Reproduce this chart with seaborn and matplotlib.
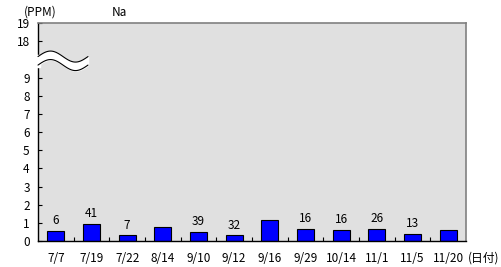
import numpy as np
import pandas as pd
import matplotlib
matplotlib.use("Agg")
import matplotlib.pyplot as plt
import seaborn as sns

dates = ["7/7", "7/19", "7/22", "8/14", "9/10", "9/12", "9/16", "9/29", "10/14", "11/1", "11/5", "11/20"]
na_ppm = [0.56, 0.94, 0.33, 0.78, 0.50, 0.33, 1.17, 0.67, 0.61, 0.67, 0.39, 0.61]
bar_labels = ["6", "41", "7", "", "39", "32", "", "16", "16", "26", "13", ""]
y_tick_values = [0, 1, 2, 3, 4, 5, 6, 7, 8, 9, 18, 19]

BREAK_LO, BREAK_HI, GAP = 9, 18, 2  # 9 -> 9, 18 -> 11


def ymap(v):
    v = np.asarray(v, dtype=float)
    return np.where(v <= BREAK_LO, v, v - (BREAK_HI - BREAK_LO) + GAP)


sns.set_theme(style="white")
plt.rcParams["font.family"] = ["Noto Sans CJK JP", "DejaVu Sans"]
plt.rcParams["text.color"] = "black"
plt.rcParams["xtick.color"] = "black"
plt.rcParams["ytick.color"] = "black"

FS = 8.5

fig = plt.figure(figsize=(5.01, 2.67), dpi=100)
ax = fig.add_axes([38 / 501, 26 / 267, 428 / 501, 218 / 267])
ax.set_facecolor("#e0e0e0")

df = pd.DataFrame({"date": dates, "value": ymap(na_ppm)})
sns.barplot(data=df, x="date", y="value", color="#0000ff", saturation=1,
            edgecolor="black", linewidth=0.8, width=0.48, ax=ax)

for i, (v, lab) in enumerate(zip(na_ppm, bar_labels)):
    if lab:
        ax.annotate(lab, (i, float(ymap(v))), xytext=(0, 2.5), textcoords="offset points",
                    ha="center", va="bottom", fontsize=FS)

ax.set_xlim(-0.5, len(dates) - 0.5)
ax.set_ylim(0, float(ymap(19)))
ax.set_yticks(ymap(y_tick_values))
ax.set_yticklabels([str(v) for v in y_tick_values], fontsize=FS)
ax.set_xticks(range(len(dates)))
ax.set_xticklabels(dates, fontsize=FS)
ax.set_xticks(np.arange(0.5, len(dates) - 1, 1.0), minor=True)
ax.tick_params(axis="x", which="major", length=0, pad=8)
ax.tick_params(axis="x", which="minor", direction="in", length=3, width=0.8, color="black", bottom=True)
ax.tick_params(axis="y", direction="in", length=3, width=0.8, color="black", left=True, pad=6)
ax.set_xlabel("")
ax.set_ylabel("")

for s in ["left", "bottom"]:
    ax.spines[s].set_color("black")
    ax.spines[s].set_linewidth(1.0)
for s in ["top", "right"]:
    ax.spines[s].set_color("#808080")
    ax.spines[s].set_linewidth(1.2)

# break symbol (wavy white band)
xs = np.linspace(0, 50 / 428, 100)
amp = 5.5 / 218
wave = amp * np.sin(2 * np.pi * xs / (50 / 428))
upper = 0.846 + wave
lower = 0.807 + wave
ax.fill_between(xs, lower, upper, color="white", transform=ax.transAxes, zorder=5, clip_on=False)
ax.fill_between([-0.005, 0.004], [0.8, 0.8], [0.852, 0.852], color="white",
                transform=ax.transAxes, zorder=5, clip_on=False)
ax.plot(xs, upper, color="black", lw=0.8, transform=ax.transAxes, zorder=6, clip_on=False)
ax.plot(xs, lower, color="black", lw=0.8, transform=ax.transAxes, zorder=6, clip_on=False)

fig.text(40 / 501, 1 - 12 / 267, "(PPM)", ha="center", va="center", fontsize=FS)
fig.text(119 / 501, 1 - 12 / 267, "Na", ha="center", va="center", fontsize=FS)
fig.text(484 / 501, 1 - 258 / 267, "(日付)", ha="center", va="center", fontsize=FS)

fig.savefig("out.png", dpi=100)
